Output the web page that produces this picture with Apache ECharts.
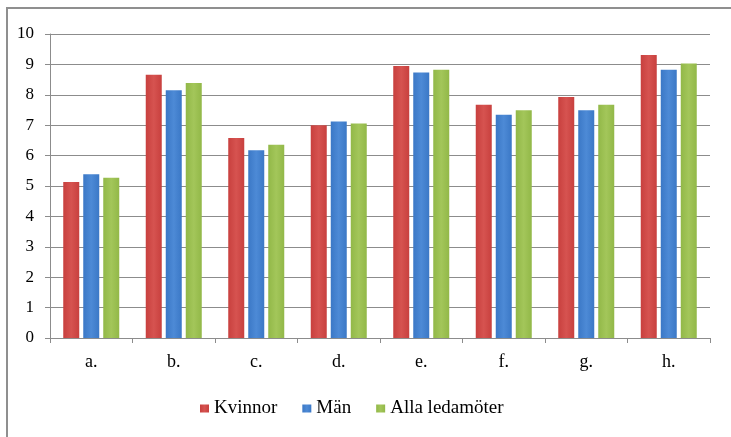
<!DOCTYPE html>
<html>
<head>
<meta charset="utf-8">
<script src="https://cdn.jsdelivr.net/npm/echarts@6/dist/echarts.min.js"></script>
<style>
html,body{margin:0;padding:0;background:#fff;}
#chart{width:731px;height:437px;}
</style>
</head>
<body>
<div id="chart"></div>
<script>
var categories = ['a.', 'b.', 'c.', 'd.', 'e.', 'f.', 'g.', 'h.'];
var kvinnor = [5.13, 8.66, 6.58, 7.00, 8.95, 7.67, 7.93, 9.31];
var man = [5.39, 8.15, 6.18, 7.12, 8.73, 7.34, 7.49, 8.82];
var alla = [5.27, 8.39, 6.36, 7.06, 8.82, 7.49, 7.67, 9.03];
var yTicks = [0, 1, 2, 3, 4, 5, 6, 7, 8, 9, 10];

var font = 'Times New Roman, Liberation Serif, DejaVu Serif, serif';
var chart = echarts.init(document.getElementById('chart'));
function grad(c1, c2) {
  return new echarts.graphic.LinearGradient(0, 0, 1, 0, [
    {offset: 0, color: c1}, {offset: 0.5, color: c2}, {offset: 1, color: c1}
  ]);
}
chart.setOption({
  animation: false,
  backgroundColor: '#ffffff',
  textStyle: {fontFamily: font},
  graphic: [{
    type: 'rect',
    shape: {x: 7, y: 8, width: 800, height: 500},
    style: {fill: 'none', stroke: '#8f8f8f', lineWidth: 2},
    silent: true
  }],
  grid: {left: 50, right: 21, top: 34, bottom: 99, containLabel: false},
  legend: {
    data: ['Kvinnor', 'Män', 'Alla ledamöter'],
    left: 195,
    top: 394,
    itemWidth: 9,
    itemHeight: 8,
    itemGap: 25,
    icon: 'rect',
    textStyle: {fontFamily: font, fontSize: 19, color: '#000'}
  },
  xAxis: {
    type: 'category',
    data: categories,
    axisLine: {lineStyle: {color: '#8c8c8c', width: 1}},
    axisTick: {show: true, length: 5, inside: false, lineStyle: {color: '#8c8c8c'}},
    axisLabel: {fontFamily: font, fontSize: 18, color: '#000', margin: 15}
  },
  yAxis: {
    type: 'value',
    min: 0,
    max: 10,
    interval: 1,
    axisLine: {show: true, lineStyle: {color: '#8c8c8c', width: 1}},
    axisTick: {show: true, length: 5, lineStyle: {color: '#8c8c8c'}},
    axisLabel: {
      fontFamily: font, fontSize: 17, color: '#000', margin: 16,
      formatter: function (v) { return yTicks.indexOf(v) >= 0 ? String(v) : ''; }
    },
    splitLine: {show: true, lineStyle: {color: '#8c8c8c', width: 1}}
  },
  series: [
    {name: 'Kvinnor', type: 'bar', data: kvinnor, barWidth: 16, barGap: '25%',
     itemStyle: {color: grad('#c8403e', '#d65350')}},
    {name: 'Män', type: 'bar', data: man, barWidth: 16, barGap: '25%',
     itemStyle: {color: grad('#3b78c6', '#4d8ad6')}},
    {name: 'Alla ledamöter', type: 'bar', data: alla, barWidth: 16, barGap: '25%',
     itemStyle: {color: grad('#92b848', '#a3c65a')}}
  ]
});
</script>
</body>
</html>
